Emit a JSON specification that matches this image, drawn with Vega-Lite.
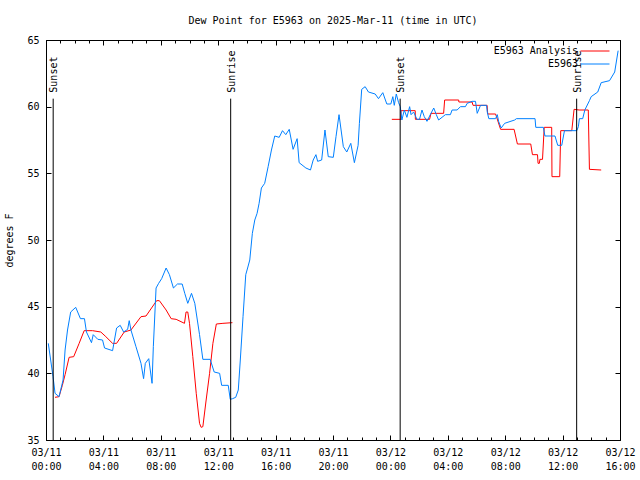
{
  "$schema": "https://vega.github.io/schema/vega-lite/v6.json",
  "width": 574,
  "height": 400,
  "autosize": "none",
  "padding": {"left": 46, "top": 40, "right": 20, "bottom": 40},
  "title": {"text": "Dew Point for E5963 on 2025-Mar-11 (time in UTC)", "font": "DejaVu Sans Mono", "fontSize": 10, "fontWeight": "normal", "color": "black", "offset": 9, "anchor": "middle"},
  "config": {
    "view": {"stroke": "black", "strokeWidth": 1},
    "font": "DejaVu Sans Mono",
    "axis": {"grid": false, "domain": false, "labelFont": "DejaVu Sans Mono", "labelFontSize": 10, "labelColor": "black", "tickColor": "black", "titleFont": "DejaVu Sans Mono", "titleFontSize": 10, "titleFontWeight": "normal", "titleColor": "black"},
    "legend": {"labelFont": "DejaVu Sans Mono", "labelFontSize": 10, "labelColor": "black", "title": null, "orient": "none", "symbolType": "stroke", "symbolSize": 841, "symbolStrokeWidth": 1, "labelAlign": "right", "labelOffset": -32, "padding": 0}
  },
  "datasets": {
    "obs": [
      {"series": "E5963 Analysis", "hour": 0.63, "dewpoint": 38.2},
      {"series": "E5963 Analysis", "hour": 0.91, "dewpoint": 38.25},
      {"series": "E5963 Analysis", "hour": 1.14, "dewpoint": 39.1},
      {"series": "E5963 Analysis", "hour": 1.33, "dewpoint": 39.9},
      {"series": "E5963 Analysis", "hour": 1.61, "dewpoint": 41.2},
      {"series": "E5963 Analysis", "hour": 1.93, "dewpoint": 41.25},
      {"series": "E5963 Analysis", "hour": 2.31, "dewpoint": 42.25},
      {"series": "E5963 Analysis", "hour": 2.66, "dewpoint": 43.2},
      {"series": "E5963 Analysis", "hour": 3.24, "dewpoint": 43.2},
      {"series": "E5963 Analysis", "hour": 3.82, "dewpoint": 43.1},
      {"series": "E5963 Analysis", "hour": 4.17, "dewpoint": 42.75},
      {"series": "E5963 Analysis", "hour": 4.64, "dewpoint": 42.25},
      {"series": "E5963 Analysis", "hour": 4.92, "dewpoint": 42.25},
      {"series": "E5963 Analysis", "hour": 5.45, "dewpoint": 43.1},
      {"series": "E5963 Analysis", "hour": 5.92, "dewpoint": 43.25},
      {"series": "E5963 Analysis", "hour": 6.62, "dewpoint": 44.25},
      {"series": "E5963 Analysis", "hour": 6.97, "dewpoint": 44.3},
      {"series": "E5963 Analysis", "hour": 7.71, "dewpoint": 45.45},
      {"series": "E5963 Analysis", "hour": 7.9, "dewpoint": 45.45},
      {"series": "E5963 Analysis", "hour": 8.37, "dewpoint": 44.75},
      {"series": "E5963 Analysis", "hour": 8.72, "dewpoint": 44.1},
      {"series": "E5963 Analysis", "hour": 9.07, "dewpoint": 44.05},
      {"series": "E5963 Analysis", "hour": 9.65, "dewpoint": 43.75},
      {"series": "E5963 Analysis", "hour": 9.76, "dewpoint": 44.6},
      {"series": "E5963 Analysis", "hour": 9.88, "dewpoint": 44.6},
      {"series": "E5963 Analysis", "hour": 10.0, "dewpoint": 43.75},
      {"series": "E5963 Analysis", "hour": 10.23, "dewpoint": 41.25},
      {"series": "E5963 Analysis", "hour": 10.47, "dewpoint": 38.5},
      {"series": "E5963 Analysis", "hour": 10.7, "dewpoint": 36.25},
      {"series": "E5963 Analysis", "hour": 10.81, "dewpoint": 35.95},
      {"series": "E5963 Analysis", "hour": 10.93, "dewpoint": 36.0},
      {"series": "E5963 Analysis", "hour": 11.16, "dewpoint": 38.0},
      {"series": "E5963 Analysis", "hour": 11.4, "dewpoint": 40.0},
      {"series": "E5963 Analysis", "hour": 11.63, "dewpoint": 42.25},
      {"series": "E5963 Analysis", "hour": 11.87, "dewpoint": 43.7},
      {"series": "E5963 Analysis", "hour": 12.33, "dewpoint": 43.75},
      {"series": "E5963 Analysis", "hour": 12.99, "dewpoint": 43.8},
      {"series": "E5963 Analysis", "hour": 18.0, "dewpoint": null},
      {"series": "E5963 Analysis", "hour": 24.1, "dewpoint": 59.05},
      {"series": "E5963 Analysis", "hour": 24.73, "dewpoint": 59.05},
      {"series": "E5963 Analysis", "hour": 24.74, "dewpoint": 59.7},
      {"series": "E5963 Analysis", "hour": 25.73, "dewpoint": 59.7},
      {"series": "E5963 Analysis", "hour": 25.74, "dewpoint": 59.05},
      {"series": "E5963 Analysis", "hour": 26.73, "dewpoint": 59.05},
      {"series": "E5963 Analysis", "hour": 26.83, "dewpoint": 59.5},
      {"series": "E5963 Analysis", "hour": 27.71, "dewpoint": 59.5},
      {"series": "E5963 Analysis", "hour": 27.78, "dewpoint": 60.5},
      {"series": "E5963 Analysis", "hour": 28.76, "dewpoint": 60.5},
      {"series": "E5963 Analysis", "hour": 28.77, "dewpoint": 60.35},
      {"series": "E5963 Analysis", "hour": 29.69, "dewpoint": 60.35},
      {"series": "E5963 Analysis", "hour": 29.76, "dewpoint": 60.1},
      {"series": "E5963 Analysis", "hour": 30.74, "dewpoint": 60.1},
      {"series": "E5963 Analysis", "hour": 30.78, "dewpoint": 59.45},
      {"series": "E5963 Analysis", "hour": 31.33, "dewpoint": 59.45},
      {"series": "E5963 Analysis", "hour": 31.68, "dewpoint": 58.3},
      {"series": "E5963 Analysis", "hour": 32.62, "dewpoint": 58.3},
      {"series": "E5963 Analysis", "hour": 32.85, "dewpoint": 57.2},
      {"series": "E5963 Analysis", "hour": 33.78, "dewpoint": 57.2},
      {"series": "E5963 Analysis", "hour": 33.9, "dewpoint": 56.4},
      {"series": "E5963 Analysis", "hour": 34.25, "dewpoint": 56.4},
      {"series": "E5963 Analysis", "hour": 34.29, "dewpoint": 55.75},
      {"series": "E5963 Analysis", "hour": 34.38, "dewpoint": 55.75},
      {"series": "E5963 Analysis", "hour": 34.42, "dewpoint": 56.05},
      {"series": "E5963 Analysis", "hour": 34.6, "dewpoint": 56.05},
      {"series": "E5963 Analysis", "hour": 34.72, "dewpoint": 58.45},
      {"series": "E5963 Analysis", "hour": 35.24, "dewpoint": 58.45},
      {"series": "E5963 Analysis", "hour": 35.26, "dewpoint": 54.75},
      {"series": "E5963 Analysis", "hour": 35.8, "dewpoint": 54.75},
      {"series": "E5963 Analysis", "hour": 35.87, "dewpoint": 58.2},
      {"series": "E5963 Analysis", "hour": 36.64, "dewpoint": 58.2},
      {"series": "E5963 Analysis", "hour": 36.8, "dewpoint": 59.8},
      {"series": "E5963 Analysis", "hour": 37.15, "dewpoint": 59.75},
      {"series": "E5963 Analysis", "hour": 37.79, "dewpoint": 59.75},
      {"series": "E5963 Analysis", "hour": 37.87, "dewpoint": 55.3},
      {"series": "E5963 Analysis", "hour": 38.69, "dewpoint": 55.25},
      {"series": "E5963", "hour": 0.16, "dewpoint": 42.25},
      {"series": "E5963", "hour": 0.49, "dewpoint": 39.75},
      {"series": "E5963", "hour": 0.63, "dewpoint": 38.5},
      {"series": "E5963", "hour": 0.91, "dewpoint": 38.25},
      {"series": "E5963", "hour": 1.19, "dewpoint": 39.5},
      {"series": "E5963", "hour": 1.33, "dewpoint": 41.75},
      {"series": "E5963", "hour": 1.5, "dewpoint": 43.25},
      {"series": "E5963", "hour": 1.72, "dewpoint": 44.6},
      {"series": "E5963", "hour": 2.07, "dewpoint": 44.95},
      {"series": "E5963", "hour": 2.4, "dewpoint": 44.1},
      {"series": "E5963", "hour": 2.68, "dewpoint": 44.1},
      {"series": "E5963", "hour": 2.82, "dewpoint": 43.1},
      {"series": "E5963", "hour": 3.17, "dewpoint": 42.3},
      {"series": "E5963", "hour": 3.29, "dewpoint": 42.9},
      {"series": "E5963", "hour": 3.61, "dewpoint": 42.55},
      {"series": "E5963", "hour": 3.94, "dewpoint": 42.5},
      {"series": "E5963", "hour": 4.08, "dewpoint": 41.9},
      {"series": "E5963", "hour": 4.64, "dewpoint": 41.7},
      {"series": "E5963", "hour": 4.92, "dewpoint": 43.4},
      {"series": "E5963", "hour": 5.17, "dewpoint": 43.6},
      {"series": "E5963", "hour": 5.41, "dewpoint": 43.1},
      {"series": "E5963", "hour": 5.69, "dewpoint": 43.3},
      {"series": "E5963", "hour": 5.8, "dewpoint": 43.95},
      {"series": "E5963", "hour": 5.92, "dewpoint": 43.25},
      {"series": "E5963", "hour": 6.27, "dewpoint": 42.0},
      {"series": "E5963", "hour": 6.62, "dewpoint": 40.75},
      {"series": "E5963", "hour": 6.8, "dewpoint": 39.6},
      {"series": "E5963", "hour": 6.92, "dewpoint": 40.75},
      {"series": "E5963", "hour": 7.16, "dewpoint": 41.1},
      {"series": "E5963", "hour": 7.39, "dewpoint": 39.25},
      {"series": "E5963", "hour": 7.48, "dewpoint": 42.0},
      {"series": "E5963", "hour": 7.67, "dewpoint": 46.4},
      {"series": "E5963", "hour": 7.85, "dewpoint": 46.75},
      {"series": "E5963", "hour": 8.06, "dewpoint": 47.1},
      {"series": "E5963", "hour": 8.37, "dewpoint": 47.9},
      {"series": "E5963", "hour": 8.6, "dewpoint": 47.4},
      {"series": "E5963", "hour": 8.88, "dewpoint": 46.4},
      {"series": "E5963", "hour": 9.16, "dewpoint": 46.7},
      {"series": "E5963", "hour": 9.49, "dewpoint": 46.7},
      {"series": "E5963", "hour": 9.67, "dewpoint": 46.0},
      {"series": "E5963", "hour": 9.88, "dewpoint": 45.25},
      {"series": "E5963", "hour": 10.14, "dewpoint": 46.0},
      {"series": "E5963", "hour": 10.37, "dewpoint": 45.25},
      {"series": "E5963", "hour": 10.7, "dewpoint": 42.9},
      {"series": "E5963", "hour": 10.93, "dewpoint": 41.05},
      {"series": "E5963", "hour": 11.44, "dewpoint": 41.05},
      {"series": "E5963", "hour": 11.72, "dewpoint": 40.1},
      {"series": "E5963", "hour": 12.1, "dewpoint": 40.0},
      {"series": "E5963", "hour": 12.24, "dewpoint": 39.1},
      {"series": "E5963", "hour": 12.7, "dewpoint": 39.1},
      {"series": "E5963", "hour": 12.84, "dewpoint": 38.05},
      {"series": "E5963", "hour": 13.0, "dewpoint": 38.1},
      {"series": "E5963", "hour": 13.22, "dewpoint": 38.2},
      {"series": "E5963", "hour": 13.4, "dewpoint": 38.75},
      {"series": "E5963", "hour": 13.54, "dewpoint": 41.0},
      {"series": "E5963", "hour": 13.73, "dewpoint": 44.25},
      {"series": "E5963", "hour": 13.92, "dewpoint": 47.4},
      {"series": "E5963", "hour": 14.05, "dewpoint": 47.9},
      {"series": "E5963", "hour": 14.2, "dewpoint": 48.5},
      {"series": "E5963", "hour": 14.38, "dewpoint": 50.5},
      {"series": "E5963", "hour": 14.55, "dewpoint": 51.5},
      {"series": "E5963", "hour": 14.71, "dewpoint": 52.0},
      {"series": "E5963", "hour": 14.85, "dewpoint": 52.75},
      {"series": "E5963", "hour": 15.01, "dewpoint": 53.9},
      {"series": "E5963", "hour": 15.24, "dewpoint": 54.25},
      {"series": "E5963", "hour": 15.48, "dewpoint": 55.5},
      {"series": "E5963", "hour": 15.71, "dewpoint": 56.75},
      {"series": "E5963", "hour": 15.94, "dewpoint": 57.8},
      {"series": "E5963", "hour": 16.25, "dewpoint": 57.7},
      {"series": "E5963", "hour": 16.48, "dewpoint": 58.2},
      {"series": "E5963", "hour": 16.71, "dewpoint": 57.9},
      {"series": "E5963", "hour": 16.95, "dewpoint": 58.3},
      {"series": "E5963", "hour": 17.22, "dewpoint": 56.8},
      {"series": "E5963", "hour": 17.5, "dewpoint": 57.6},
      {"series": "E5963", "hour": 17.64, "dewpoint": 55.8},
      {"series": "E5963", "hour": 18.11, "dewpoint": 55.4},
      {"series": "E5963", "hour": 18.43, "dewpoint": 55.25},
      {"series": "E5963", "hour": 18.62, "dewpoint": 56.0},
      {"series": "E5963", "hour": 18.81, "dewpoint": 56.4},
      {"series": "E5963", "hour": 18.93, "dewpoint": 55.9},
      {"series": "E5963", "hour": 19.21, "dewpoint": 56.0},
      {"series": "E5963", "hour": 19.44, "dewpoint": 58.25},
      {"series": "E5963", "hour": 19.67, "dewpoint": 56.25},
      {"series": "E5963", "hour": 20.02, "dewpoint": 56.2},
      {"series": "E5963", "hour": 20.21, "dewpoint": 57.75},
      {"series": "E5963", "hour": 20.42, "dewpoint": 59.4},
      {"series": "E5963", "hour": 20.72, "dewpoint": 57.0},
      {"series": "E5963", "hour": 20.96, "dewpoint": 56.6},
      {"series": "E5963", "hour": 21.24, "dewpoint": 57.25},
      {"series": "E5963", "hour": 21.49, "dewpoint": 55.8},
      {"series": "E5963", "hour": 21.75, "dewpoint": 57.1},
      {"series": "E5963", "hour": 21.84, "dewpoint": 58.75},
      {"series": "E5963", "hour": 22.0, "dewpoint": 61.3},
      {"series": "E5963", "hour": 22.24, "dewpoint": 61.5},
      {"series": "E5963", "hour": 22.47, "dewpoint": 61.1},
      {"series": "E5963", "hour": 22.94, "dewpoint": 60.95},
      {"series": "E5963", "hour": 23.17, "dewpoint": 60.6},
      {"series": "E5963", "hour": 23.47, "dewpoint": 61.05},
      {"series": "E5963", "hour": 23.75, "dewpoint": 60.2},
      {"series": "E5963", "hour": 24.03, "dewpoint": 60.2},
      {"series": "E5963", "hour": 24.17, "dewpoint": 60.75},
      {"series": "E5963", "hour": 24.27, "dewpoint": 60.1},
      {"series": "E5963", "hour": 24.41, "dewpoint": 60.95},
      {"series": "E5963", "hour": 24.57, "dewpoint": 60.3},
      {"series": "E5963", "hour": 24.69, "dewpoint": 60.0},
      {"series": "E5963", "hour": 24.8, "dewpoint": 59.0},
      {"series": "E5963", "hour": 24.97, "dewpoint": 59.75},
      {"series": "E5963", "hour": 25.15, "dewpoint": 59.2},
      {"series": "E5963", "hour": 25.34, "dewpoint": 60.0},
      {"series": "E5963", "hour": 25.44, "dewpoint": 59.4},
      {"series": "E5963", "hour": 25.62, "dewpoint": 59.6},
      {"series": "E5963", "hour": 25.85, "dewpoint": 59.05},
      {"series": "E5963", "hour": 26.03, "dewpoint": 59.05},
      {"series": "E5963", "hour": 26.2, "dewpoint": 59.75},
      {"series": "E5963", "hour": 26.36, "dewpoint": 59.25},
      {"series": "E5963", "hour": 26.55, "dewpoint": 58.9},
      {"series": "E5963", "hour": 26.78, "dewpoint": 59.4},
      {"series": "E5963", "hour": 27.02, "dewpoint": 59.9},
      {"series": "E5963", "hour": 27.2, "dewpoint": 59.4},
      {"series": "E5963", "hour": 27.36, "dewpoint": 59.0},
      {"series": "E5963", "hour": 27.83, "dewpoint": 59.4},
      {"series": "E5963", "hour": 28.18, "dewpoint": 59.4},
      {"series": "E5963", "hour": 28.3, "dewpoint": 59.75},
      {"series": "E5963", "hour": 28.65, "dewpoint": 59.75},
      {"series": "E5963", "hour": 28.88, "dewpoint": 60.0},
      {"series": "E5963", "hour": 29.23, "dewpoint": 60.0},
      {"series": "E5963", "hour": 29.35, "dewpoint": 60.25},
      {"series": "E5963", "hour": 29.69, "dewpoint": 60.4},
      {"series": "E5963", "hour": 29.93, "dewpoint": 60.4},
      {"series": "E5963", "hour": 30.05, "dewpoint": 59.5},
      {"series": "E5963", "hour": 30.28, "dewpoint": 60.1},
      {"series": "E5963", "hour": 30.7, "dewpoint": 60.1},
      {"series": "E5963", "hour": 30.75, "dewpoint": 59.6},
      {"series": "E5963", "hour": 30.86, "dewpoint": 59.1},
      {"series": "E5963", "hour": 31.33, "dewpoint": 59.1},
      {"series": "E5963", "hour": 31.45, "dewpoint": 59.4},
      {"series": "E5963", "hour": 31.54, "dewpoint": 58.9},
      {"series": "E5963", "hour": 31.72, "dewpoint": 58.4},
      {"series": "E5963", "hour": 31.96, "dewpoint": 58.75},
      {"series": "E5963", "hour": 32.66, "dewpoint": 59.0},
      {"series": "E5963", "hour": 32.78, "dewpoint": 59.1},
      {"series": "E5963", "hour": 34.08, "dewpoint": 59.1},
      {"series": "E5963", "hour": 34.13, "dewpoint": 58.45},
      {"series": "E5963", "hour": 34.66, "dewpoint": 58.45},
      {"series": "E5963", "hour": 34.77, "dewpoint": 57.8},
      {"series": "E5963", "hour": 35.47, "dewpoint": 57.8},
      {"series": "E5963", "hour": 35.66, "dewpoint": 57.1},
      {"series": "E5963", "hour": 35.94, "dewpoint": 57.1},
      {"series": "E5963", "hour": 36.13, "dewpoint": 58.2},
      {"series": "E5963", "hour": 36.99, "dewpoint": 58.2},
      {"series": "E5963", "hour": 37.1, "dewpoint": 58.5},
      {"series": "E5963", "hour": 37.17, "dewpoint": 59.1},
      {"series": "E5963", "hour": 37.4, "dewpoint": 59.1},
      {"series": "E5963", "hour": 37.55, "dewpoint": 59.75},
      {"series": "E5963", "hour": 37.87, "dewpoint": 60.45},
      {"series": "E5963", "hour": 37.99, "dewpoint": 60.75},
      {"series": "E5963", "hour": 38.45, "dewpoint": 61.1},
      {"series": "E5963", "hour": 38.69, "dewpoint": 61.8},
      {"series": "E5963", "hour": 39.27, "dewpoint": 61.95},
      {"series": "E5963", "hour": 39.63, "dewpoint": 62.6},
      {"series": "E5963", "hour": 39.87, "dewpoint": 64.2}
    ],
    "sun": [
      {"event": "Sunset", "hour": 0.5},
      {"event": "Sunrise", "hour": 12.87},
      {"event": "Sunset", "hour": 24.68},
      {"event": "Sunrise", "hour": 36.98}
    ]
  },
  "resolve": {"axis": {"x": "independent", "y": "independent"}},
  "layer": [
    {
      "data": {"name": "obs"},
      "transform": [{"filter": "datum.series === 'E5963 Analysis'"}],
      "mark": {"type": "line", "strokeWidth": 1, "invalid": "break-paths-show-domains", "clip": true},
      "encoding": {
        "x": {"field": "hour", "type": "quantitative", "scale": {"domain": [0, 40], "nice": false, "zero": false},
          "axis": {"orient": "bottom", "title": null, "values": [0, 4, 8, 12, 16, 20, 24, 28, 32, 36, 40], "tickSize": -5, "labelPadding": 12, "labelLineHeight": 14, "labelFlush": false, "labelOverlap": false,
            "labelExpr": "[datum.value < 24 ? '03/11' : '03/12', (datum.value % 24 < 10 ? '0' : '') + (datum.value % 24) + ':00']"}},
        "y": {"field": "dewpoint", "type": "quantitative", "scale": {"domain": [35, 65], "nice": false, "zero": false},
          "axis": {"orient": "left", "title": "degrees F", "values": [35, 40, 45, 50, 55, 60, 65], "tickSize": -5, "labelPadding": 12, "titlePadding": 12, "labelFlush": false}},
        "color": {"field": "series", "type": "nominal", "scale": {"domain": ["E5963 Analysis"], "range": ["#ff0000"]},
          "legend": {"legendX": 534, "legendY": -4}}
      }
    },
    {
      "data": {"name": "obs"},
      "transform": [{"filter": "datum.series === 'E5963'"}],
      "mark": {"type": "line", "strokeWidth": 1, "clip": true},
      "encoding": {
        "x": {"field": "hour", "type": "quantitative", "axis": {"orient": "top", "title": null, "values": [0, 4, 8, 12, 16, 20, 24, 28, 32, 36, 40], "tickSize": -5, "labels": false}},
        "y": {"field": "dewpoint", "type": "quantitative", "axis": {"orient": "right", "title": null, "values": [35, 40, 45, 50, 55, 60, 65], "tickSize": -5, "labels": false}},
        "stroke": {"field": "series", "type": "nominal", "scale": {"domain": ["E5963"], "range": ["#0080ff"]},
          "legend": {"legendX": 534, "legendY": 9}}
      }
    },
    {
      "data": {"name": "sun"},
      "mark": {"type": "rule", "color": "black", "strokeWidth": 1},
      "encoding": {
        "x": {"field": "hour", "type": "quantitative", "axis": {"orient": "bottom", "title": null, "values": [0,1,2,3,4,5,6,7,8,9,10,11,12,13,14,15,16,17,18,19,20,21,22,23,24,25,26,27,28,29,30,31,32,33,34,35,36,37,38,39,40], "tickSize": -3, "labels": false}},
        "y": {"datum": 35, "axis": null},
        "y2": {"datum": 60.6}
      }
    },
    {
      "data": {"name": "sun"},
      "mark": {"type": "text", "angle": 270, "align": "left", "baseline": "middle", "font": "DejaVu Sans Mono", "fontSize": 10, "color": "black", "dy": 1},
      "encoding": {
        "x": {"field": "hour", "type": "quantitative", "axis": {"orient": "top", "title": null, "values": [0,1,2,3,4,5,6,7,8,9,10,11,12,13,14,15,16,17,18,19,20,21,22,23,24,25,26,27,28,29,30,31,32,33,34,35,36,37,38,39,40], "tickSize": -3, "labels": false}},
        "y": {"datum": 61.05, "axis": null},
        "text": {"field": "event"}
      }
    }
  ]
}
